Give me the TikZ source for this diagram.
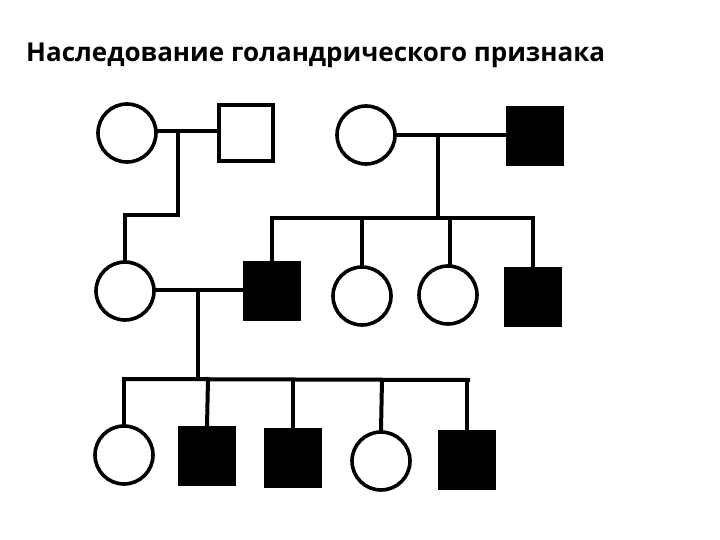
\documentclass[tikz,border=0pt]{standalone}
\usepackage{fontspec}
\setmainfont{Open Sans}
\begin{document}
\begin{tikzpicture}[x=1pt,y=-1pt,
  fem/.style={draw=black,line width=3.6pt,circle,minimum size=58pt,inner sep=0pt,fill=white},
  malebox/.style={draw=black,line width=3.6pt,rectangle,minimum width=54pt,minimum height=56pt,inner sep=0pt,fill=white},
  affected/.style={malebox,fill=black},
  link/.style={line width=4pt,line cap=rect}]
\useasboundingbox (0,0) rectangle (720,540);
\node[anchor=base west,inner sep=0pt,font=\bfseries\fontsize{26}{30}\selectfont] (title) at (26,62) {Наследование голандрического признака};
% generation I
\node[fem] (f1) at (127,133) {};
\node[malebox] (m1) at (246,133) {};
\node[fem] (f2) at (366,135) {};
\node[affected] (m2) at (535,136) {};
% generation II
\node[fem] (f3) at (125,291) {};
\node[affected] (m3) at (272,291) {};
\node[fem] (f4) at (362,296) {};
\node[fem] (f5) at (448,295) {};
\node[affected] (m4) at (533,297) {};
% generation III
\node[fem] (f6) at (124,455) {};
\node[affected] (m5) at (207,456) {};
\node[affected] (m6) at (293,458) {};
\node[fem] (f7) at (381,461) {};
\node[affected] (m7) at (467,460) {};
% couple 1
\coordinate (j1) at (178,131);
\coordinate (k1) at (178,215);
\coordinate (k2) at (125,215);
\draw[link] (f1.east |- j1) -- (m1.west |- j1);
\draw[link] (j1) -- (k1) -- (k2) -- (f3.north);
% couple 2
\coordinate (j2) at (438,135);
\coordinate (s2) at (438,218);
\draw[link] (f2.east |- j2) -- (m2.west |- j2);
\draw[link] (j2) -- (s2);
\draw[link] (272,218) -- (533,218);
\draw[link] (272,218) -- (m3.north);
\draw[link] (362,218) -- (f4.north);
\draw[link] (450,218) -- (450,266);
\draw[link] (533,218) -- (m4.north);
% couple 3
\coordinate (j3) at (198,290);
\coordinate (s3) at (198,378);
\draw[link] (f3.east |- j3) -- (m3.west |- j3);
\draw[link] (j3) -- (s3);
\draw[link] (124,379) -- (468,380);
\draw[link] (124,379) -- (f6.north);
\draw[link] (208,379) -- (m5.north);
\draw[link] (293,380) -- (m6.north);
\draw[link] (382,380) -- (f7.north);
\draw[link] (467,380) -- (m7.north);
\end{tikzpicture}
\end{document}
